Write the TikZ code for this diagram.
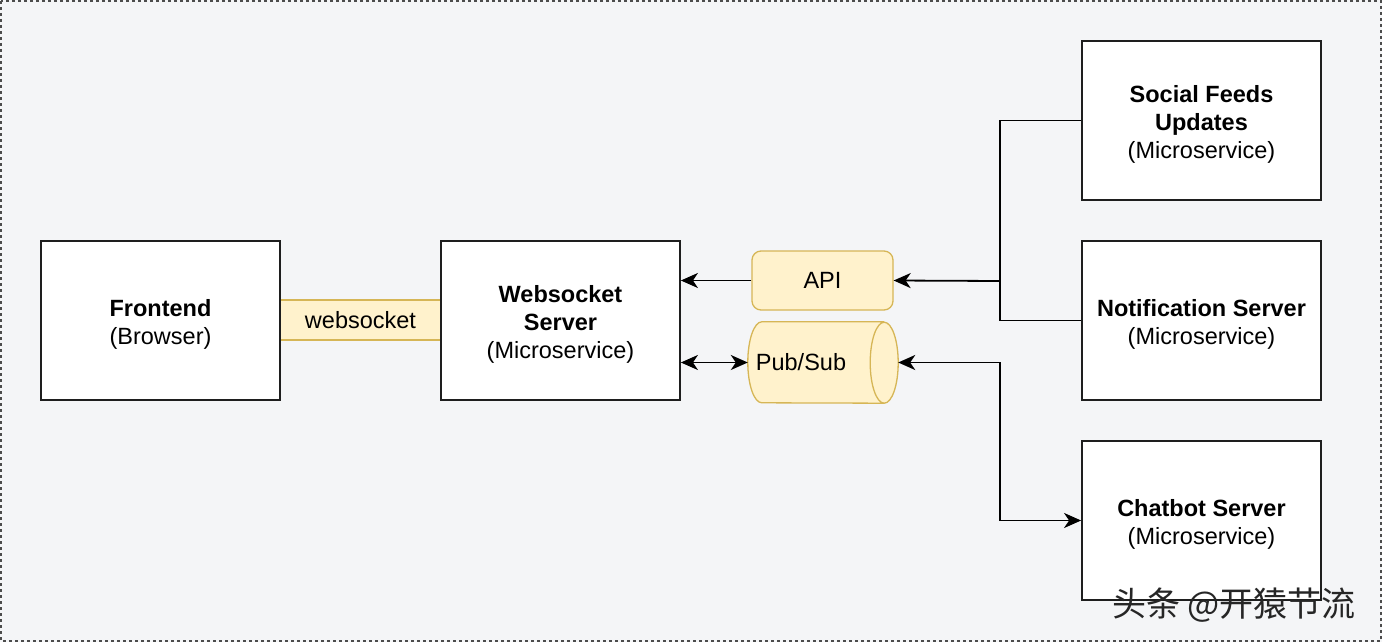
\documentclass[tikz,border=0pt]{standalone}
\usepackage{fontspec}
\setmainfont{Liberation Sans}
\newfontfamily\cjk{Noto Sans CJK SC}
\usetikzlibrary{arrows.meta}
\definecolor{bg}{HTML}{F4F5F7}
\definecolor{yfill}{HTML}{FFF2CC}
\definecolor{ydraw}{HTML}{D6B656}
\definecolor{boxline}{HTML}{1E1E1E}
\newcommand\tallstrut{\rule{0pt}{24pt}}
\tikzset{
  svc/.style={draw=boxline, line width=1.8pt, fill=white, minimum width=239pt, minimum height=159pt, inner sep=0pt, align=center, font=\fontsize{23.5}{28}\selectfont},
  yel/.style={draw=ydraw, line width=1.3pt, fill=yfill, inner sep=0pt, font=\fontsize{23.5}{28}\selectfont},
  conn/.style={draw=black, line width=1.8pt},
  arrone/.style={-{Stealth[length=17pt,width=15pt,inset=5pt]}},
  arrboth/.style={{Stealth[length=17pt,width=15pt,inset=5pt]}-{Stealth[length=17pt,width=15pt,inset=5pt]}},
}
\begin{document}
\begin{tikzpicture}[x=1pt,y=-1pt]
\useasboundingbox (0,0) rectangle (1382,642);
\fill[bg] (0,0) rectangle (1382,642);
\draw[draw=black!70, line width=2pt, dash pattern=on 3pt off 3pt] (1,1) rectangle (1381,641);

% websocket band
\node[yel, minimum width=160pt, minimum height=40pt] (band) at (360.5,320) {websocket};

% main boxes
\node[svc] (front) at (160.5,320.5) {\tallstrut\textbf{Frontend}\\(Browser)};
\node[svc] (ws) at (560.5,320.5) {\tallstrut\textbf{Websocket}\\\textbf{Server}\\(Microservice)};
\node[svc] (social) at (1201.5,120.5) {\tallstrut\textbf{Social Feeds}\\\textbf{Updates}\\(Microservice)};
\node[svc] (notif) at (1201.5,320.5) {\tallstrut\textbf{Notification Server}\\(Microservice)};
\node[svc] (chat) at (1201.5,520.5) {\tallstrut\textbf{Chatbot Server}\\(Microservice)};

% API
\node[yel, rounded corners=9pt, minimum width=141pt, minimum height=59pt] (api) at (822.5,280.5) {API};

% Pub/Sub cylinder
\node[minimum width=150pt, minimum height=81pt, inner sep=0pt] (pubsub) at (823,362.5) {};
\filldraw[draw=ydraw, fill=yfill, line width=1.3pt]
  ([xshift=-14pt]pubsub.north east) -- ([xshift=14pt]pubsub.north west)
  arc[start angle=90, end angle=270, x radius=14pt, y radius=40.5pt]
  -- ([xshift=-14pt]pubsub.south east)
  arc[start angle=-90, end angle=90, x radius=14pt, y radius=40.5pt]
  arc[start angle=90, end angle=270, x radius=14pt, y radius=40.5pt];
\node[font=\fontsize{23.5}{28}\selectfont] (pslabel) at (801,362.5) {Pub/Sub};

% connectors
\coordinate (j1) at (1000,281);
\coordinate (j2) at (1000,520.5);
\draw[conn] (social.west) -| (j1) |- (notif.west);
\draw[conn, arrone] (j1) -- (api.east);
\draw[conn, arrone] (api.west) -- (ws.east |- api.west);
\draw[conn, arrboth] (ws.east |- pubsub.west) -- (pubsub.west);
\draw[conn, arrboth] (pubsub.east) -| (j2) -- (chat.west);

% watermark
\node[font=\cjk\fontsize{34}{38}\selectfont, text=black!85, anchor=west, inner sep=0pt] (wm) at (1112,605) {头条 @开猿节流};
\end{tikzpicture}
\end{document}
